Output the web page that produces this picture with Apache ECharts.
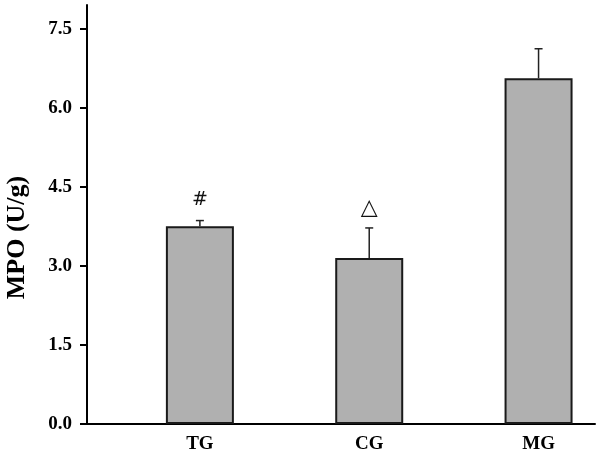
<!DOCTYPE html>
<html>
<head>
<meta charset="utf-8">
<script src="https://cdn.jsdelivr.net/npm/echarts@6/dist/echarts.min.js"></script>
<style>html,body{margin:0;padding:0;background:#fff}#c{width:602px;height:452px}</style>
</head>
<body>
<div id="c"></div>
<script>
var categories = ['TG', 'CG', 'MG'];
var values = [3.75, 3.15, 6.56];
var errors = [0.11, 0.57, 0.56];
var marks = ['#', '\u25B3', ''];
var yTicks = [0, 1.5, 3.0, 4.5, 6.0, 7.5];

var serif = "'Liberation Serif', 'Times New Roman', serif";
var positions = categories.map(function (c, i) { return i + 1; });

var chart = echarts.init(document.getElementById('c'));
chart.setOption({
  animation: false,
  backgroundColor: '#fff',
  grid: { left: 87, right: 7, top: 5, bottom: 28, containLabel: false, outerBoundsMode: 'none' },
  xAxis: {
    type: 'value',
    min: 1 / 3,
    max: 10 / 3,
    splitLine: { show: false },
    axisTick: { show: false },
    axisLine: { lineStyle: { color: '#000', width: 2 } },
    axisLabel: {
      customValues: positions,
      formatter: function (v) { return categories[Math.round(v) - 1] || ''; },
      color: '#000', fontFamily: serif, fontWeight: 'bold', fontSize: 19, margin: 11
    }
  },
  yAxis: {
    type: 'value',
    min: 0,
    max: 7.95,
    name: 'MPO (U/g)',
    nameLocation: 'middle',
    nameGap: 57,
    nameTextStyle: { color: '#000', fontFamily: serif, fontWeight: 'bold', fontSize: 26, padding: [0, 46, 0, 0] },
    splitLine: { show: false },
    axisLine: { show: true, lineStyle: { color: '#000', width: 2 } },
    axisTick: { show: true, customValues: yTicks, length: 7, lineStyle: { color: '#000', width: 2 } },
    axisLabel: {
      customValues: yTicks,
      formatter: function (v) { return v.toFixed(1); },
      color: '#000', fontFamily: serif, fontWeight: 'bold', fontSize: 19, margin: 15
    }
  },
  series: [
    {
      type: 'bar',
      barWidth: 68,
      data: positions.map(function (p, i) { return [p, values[i]]; }),
      itemStyle: { color: '#b0b0b0', borderColor: '#1a1a1a', borderWidth: 2 }
    },
    {
      type: 'custom',
      data: positions.map(function (p, i) { return [p, values[i], values[i] + errors[i]]; }),
      z: 3,
      renderItem: function (params, api) {
        var x = api.value(0);
        var base = api.coord([x, api.value(1)]);
        var top = api.coord([x, api.value(2)]);
        var half = 4;
        var children = [
          { type: 'line', shape: { x1: base[0], y1: base[1], x2: top[0], y2: top[1] }, style: { stroke: '#222', lineWidth: 1.5 } },
          { type: 'line', shape: { x1: top[0] - half, y1: top[1], x2: top[0] + half, y2: top[1] }, style: { stroke: '#222', lineWidth: 1.5 } }
        ];
        var m = marks[params.dataIndex];
        if (m) {
          children.push({
            type: 'text',
            style: {
              text: m, x: top[0], y: top[1] - 20,
              align: 'center', verticalAlign: 'middle',
              fontFamily: "'DejaVu Sans', sans-serif", fontSize: m === '#' ? 19 : 22, fill: '#111'
            }
          });
        }
        return { type: 'group', children: children };
      }
    }
  ]
});
</script>
</body>
</html>
